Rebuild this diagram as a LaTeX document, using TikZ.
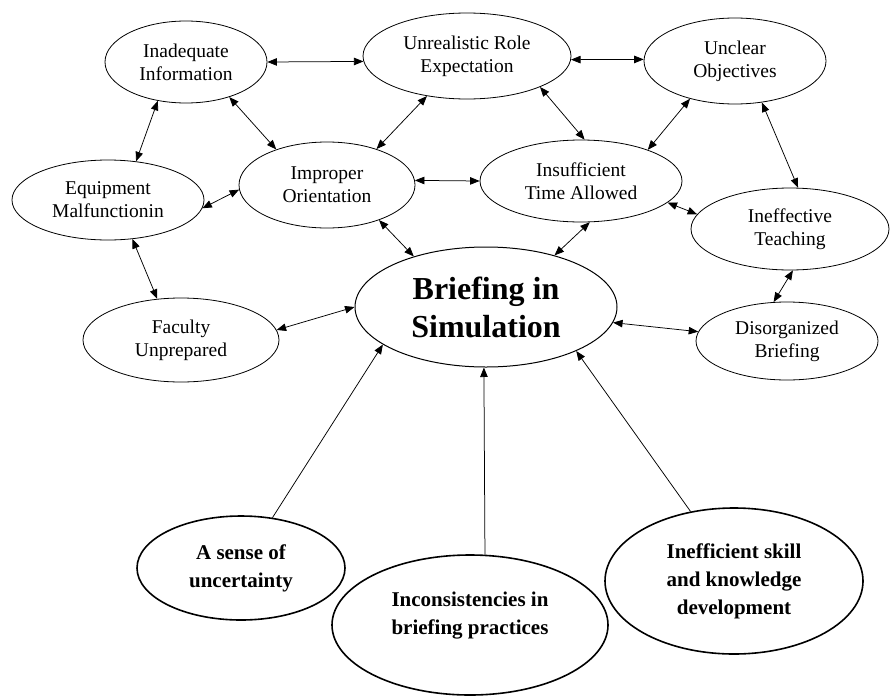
\documentclass[tikz,border=0pt]{standalone}
\usepackage{fontspec}
\setmainfont{Liberation Serif}
\usetikzlibrary{shapes.geometric,arrows.meta}
\tikzset{
  topbox/.style={ellipse, draw, line width=0.8pt, inner sep=0pt, align=center,
    font=\fontsize{19.5}{23}\selectfont},
  bigbox/.style={ellipse, draw, line width=1pt, inner sep=0pt, align=center,
    font=\bfseries\fontsize{32}{38}\selectfont},
  causebox/.style={ellipse, draw, line width=1.6pt, inner sep=0pt, align=center,
    font=\bfseries\fontsize{21}{28}\selectfont},
  tip/.tip={Triangle[length=9.5pt,width=7.5pt]},
  link/.style={line width=0.75pt, tip-tip},
  cause/.style={line width=0.75pt, -tip},
}
\begin{document}
\begin{tikzpicture}[x=1pt,y=-1pt]
\useasboundingbox (0,0) rectangle (890,696);
\node[topbox, minimum width=162pt, minimum height=82pt] (inad) at (186,62) {Inadequate\\Information};
\node[topbox, minimum width=208pt, minimum height=86pt] (unreal) at (467,56) {Unrealistic Role\\Expectation};
\node[topbox, minimum width=182pt, minimum height=86pt] (unclear) at (735,61) {Unclear\\Objectives};
\node[topbox, minimum width=192pt, minimum height=80pt] (equip) at (108,200) {Equipment\\Malfunctionin};
\node[topbox, minimum width=176pt, minimum height=86pt] (improper) at (327,185) {Improper\\Orientation};
\node[topbox, minimum width=202pt, minimum height=82pt] (insuff) at (581,181) {Insufficient\\Time Allowed};
\node[topbox, minimum width=198pt, minimum height=82pt] (ineff) at (790,229) {Ineffective\\Teaching};
\node[topbox, minimum width=196pt, minimum height=84pt] (faculty) at (181,340) {Faculty\\Unprepared};
\node[bigbox, minimum width=262pt, minimum height=120pt] (brief) at (486,307) {Briefing in\\Simulation};
\node[topbox, minimum width=182pt, minimum height=78pt] (disorg) at (787,341) {Disorganized\\Briefing};
\node[causebox, minimum width=208pt, minimum height=104pt] (sense) at (241,568) {A sense of\\uncertainty};
\node[causebox, minimum width=276pt, minimum height=140pt] (incons) at (470,625) {Inconsistencies in\\briefing practices\\[-4pt]\mbox{}};
\node[causebox, minimum width=258pt, minimum height=146pt] (ineffsk) at (734,581) {Inefficient skill\\and knowledge\\development};

\draw[link] (inad.0) -- (unreal.183);
\draw[link] (unreal.-2) -- (unclear.179);
\draw[link] (inad.234) -- (equip.54);
\draw[link] (inad.321) -- (improper.145);
\draw[link] (unreal.225) -- (improper.36);
\draw[link] (unreal.337) -- (insuff.85);
\draw[link] (unclear.220) -- (insuff.25);
\draw[link] (improper.3) -- (insuff.180);
\draw[link] (improper.183) -- (equip.355);
\draw[link] (unclear.303) -- (ineff.79);
\draw[link] (insuff.346) -- (ineff.171);
\draw[link] (insuff.282) -- (brief.37);
\draw[link] (improper.326) -- (brief.145);
\draw[link] (ineff.274) -- (disorg.109);
\draw[link] (equip.302) -- (faculty.120);
\draw[link] (faculty.6) -- (brief.180);
\draw[link] (brief.353) -- (disorg.174);
\draw[cause] (sense.58) -- (brief.200);
\draw[cause] (incons.78) -- (brief.268);
\draw[cause] (ineffsk.122) -- (brief.334);
\end{tikzpicture}
\end{document}
